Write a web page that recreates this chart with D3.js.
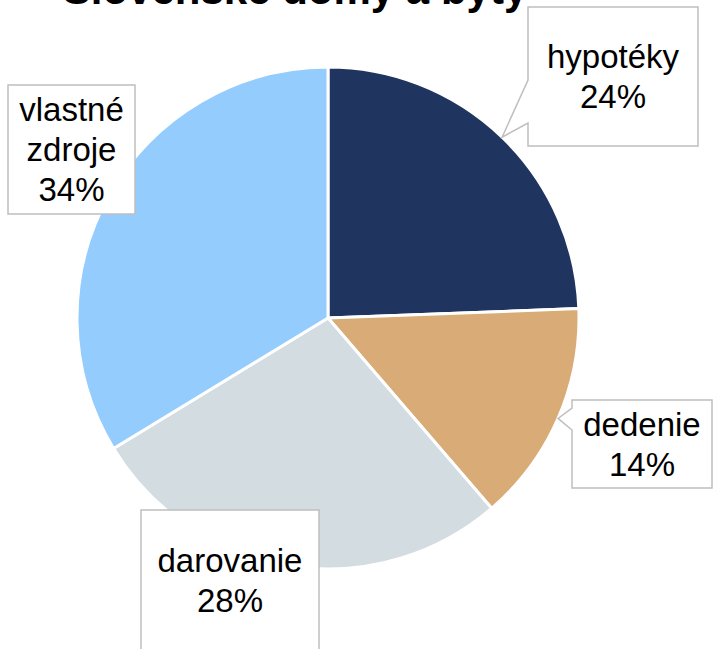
<!DOCTYPE html>
<html>
<head>
<meta charset="utf-8">
<script src="https://cdn.jsdelivr.net/npm/d3@7"></script>
<style>
    html, body { margin: 0; padding: 0; background: #fff; overflow: hidden; }
</style>
</head>
<body>
<svg id="chart"></svg>
<script>
const title = "Slovenské domy a byty";
const categories = ["hypotéky", "dedenie", "darovanie", "vlastné zdroje"];
const values = [24.4, 14.3, 27.6, 33.7];
const colors = ["#1F3560", "#D9AB76", "#D3DCE1", "#93CCFD"];

// label boxes (layout only): box rect + where the callout leaves the left edge
const boxes = [
    {x: 528, y: 7, w: 170, h: 139, pointer: [73, 116]},
    {x: 572, y: 400, w: 140, h: 88, pointer: [8, 30]},
    {x: 141, y: 510, w: 178, h: 140, pointer: null},
    {x: 8, y: 85, w: 127, h: 129, pointer: null}
];

const width = 713
const height = 649
const cx = 328, cy = 318, radius = 251
const fontSize = 33
const lineH = 40

const svg = d3.select("#chart")
    .attr("width", width)
    .attr("height", height)
    .style("font-family", "'Liberation Sans', Arial, sans-serif");

const total = d3.sum(values)
const pct = d3.format(".0%")

const pie = d3.pie()
    .sort(null)
    .startAngle(0)
    .endAngle(2 * Math.PI)
    .value(d => d);

const arcs = pie(values);

const arc = d3.arc()
    .innerRadius(0)
    .outerRadius(radius);

const g = svg.append("g")
    .attr("transform", `translate(${cx},${cy})`);

g.selectAll("path")
    .data(arcs)
    .join("path")
    .attr("d", arc)
    .attr("fill", (d, i) => colors[i])
    .attr("stroke", "#fff")
    .attr("stroke-width", 3)
    .attr("stroke-linejoin", "round");

// title (partly clipped by the top edge, as in the source)
svg.append("text")
    .attr("x", 295)
    .attr("y", 4)
    .attr("text-anchor", "middle")
    .attr("font-weight", "bold")
    .attr("font-size", 42)
    .text(title);

// callout boxes
const labels = svg.append("g")
    .selectAll("g")
    .data(arcs)
    .join("g");

labels.append("path")
    .attr("fill", "#fff")
    .attr("stroke", "#BFBFBF")
    .attr("stroke-width", 1.5)
    .attr("d", (d, i) => {
        const b = boxes[i];
        const p = d3.path();
        p.moveTo(b.x, b.y);
        p.lineTo(b.x + b.w, b.y);
        p.lineTo(b.x + b.w, b.y + b.h);
        p.lineTo(b.x, b.y + b.h);
        if (b.pointer) {
            const a = (d.startAngle + d.endAngle) / 2;
            const tx = cx + radius * Math.sin(a);
            const ty = cy - radius * Math.cos(a);
            p.lineTo(b.x, b.y + b.pointer[1]);
            p.lineTo(tx, ty);
            p.lineTo(b.x, b.y + b.pointer[0]);
        }
        p.closePath();
        return p.toString();
    });

labels.append("text")
    .attr("text-anchor", "middle")
    .attr("font-size", fontSize)
    .attr("fill", "#000")
    .each(function (d, i) {
        const b = boxes[i];
        const lines = categories[i].split(" ").concat([pct(d.value / total)]);
        const mid = b.y + b.h / 2;
        const first = mid - (lines.length - 1) * lineH / 2;
        d3.select(this).selectAll("tspan")
            .data(lines)
            .join("tspan")
            .attr("x", b.x + b.w / 2)
            .attr("y", (t, j) => first + j * lineH)
            .attr("dy", "0.35em")
            .text(t => t);
    });
</script>
</body>
</html>
